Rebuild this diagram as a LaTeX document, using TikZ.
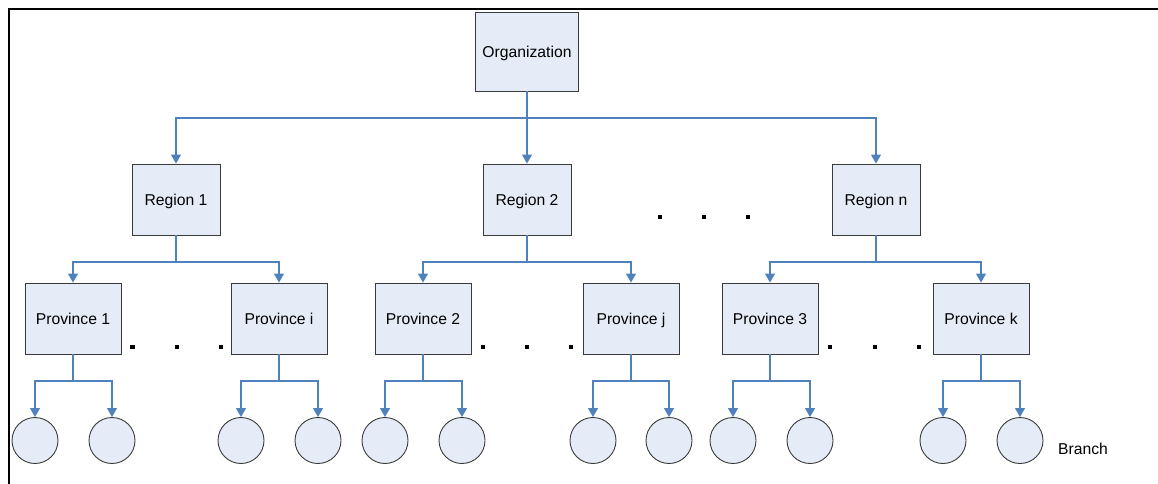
\documentclass[tikz,border=0pt]{standalone}
\usepackage{fontspec}
\setmainfont{Liberation Sans}
\usetikzlibrary{arrows.meta}
\definecolor{boxfill}{HTML}{E6ECF7}
\definecolor{boxline}{HTML}{3A3A3A}
\definecolor{linkblue}{HTML}{4F81BD}

\begin{document}
\begin{tikzpicture}[x=1pt,y=-1pt,
  unitbox/.style={draw=boxline, fill=boxfill, line width=0.9pt,
    font=\fontsize{15.7}{18}\selectfont, inner sep=0pt,
    text height=11.3pt, text depth=0pt},
  orgbox/.style={unitbox, minimum width=103pt, minimum height=79pt},
  regbox/.style={unitbox, minimum width=88pt, minimum height=71pt},
  provbox/.style={unitbox, minimum width=96pt, minimum height=71pt},
  branch/.style={circle, draw=boxline, fill=boxfill, line width=0.9pt,
    minimum size=46pt, inner sep=0pt},
  conn/.style={draw=linkblue, line width=1.1pt,
    -{Triangle[width=10pt,length=9pt]}},
  gapdot/.style={fill=black, minimum size=4.5pt, inner sep=0pt},
  lbl/.style={font=\fontsize{15.7}{18}\selectfont, inner sep=0pt}
]
\useasboundingbox (0,0) rectangle (1158,484);

% frame (top and left edges)
\draw[line width=2pt] (9.3,484) -- (9.3,9.3) -- (1158,9.3);

% top level
\node[orgbox] (org) at (527,51.5) {Organization};

% regions
\node[regbox] (r1) at (176,199.5) {Region 1};
\node[regbox] (r2) at (527,199.5) {Region 2};
\node[regbox] (rn) at (876,199.5) {Region n};

% provinces
\node[provbox] (p1) at (73,318.5) {Province 1};
\node[provbox] (pi) at (279,318.5) {Province i};
\node[provbox] (p2) at (423,318.5) {Province 2};
\node[provbox] (pj) at (631,318.5) {Province j};
\node[provbox] (p3) at (770,318.5) {Province 3};
\node[provbox] (pk) at (981,318.5) {Province k};

% branches
\node[branch] (b1a) at (35,440.5) {};
\node[branch] (b1b) at (112,440.5) {};
\node[branch] (bia) at (241,440.5) {};
\node[branch] (bib) at (318,440.5) {};
\node[branch] (b2a) at (385,440.5) {};
\node[branch] (b2b) at (462,440.5) {};
\node[branch] (bja) at (593,440.5) {};
\node[branch] (bjb) at (669,440.5) {};
\node[branch] (b3a) at (733,440.5) {};
\node[branch] (b3b) at (810,440.5) {};
\node[branch] (bka) at (943,440.5) {};
\node[branch] (bkb) at (1020,440.5) {};

\node[lbl, anchor=west] (blabel) at (1058,449) {Branch};

% ellipsis dots
\node[gapdot] (d0a) at (660,217) {};
\node[gapdot] (d0b) at (704,217) {};
\node[gapdot] (d0c) at (748,217) {};
\node[gapdot] (d1a) at (132.5,347) {};
\node[gapdot] (d1b) at (177,347) {};
\node[gapdot] (d1c) at (221,347) {};
\node[gapdot] (d2a) at (483,347) {};
\node[gapdot] (d2b) at (527,347) {};
\node[gapdot] (d2c) at (571,347) {};
\node[gapdot] (d3a) at (830,347) {};
\node[gapdot] (d3b) at (875,347) {};
\node[gapdot] (d3c) at (919,347) {};

% bus coordinates
\coordinate (orgbus) at (527,118);
\coordinate (r1bus) at (176,262);
\coordinate (r2bus) at (527,262);
\coordinate (rnbus) at (876,262);
\coordinate (p1bus) at (73,381);
\coordinate (pibus) at (279,381);
\coordinate (p2bus) at (423,381);
\coordinate (pjbus) at (631,381);
\coordinate (p3bus) at (770,381);
\coordinate (pkbus) at (981,381);

% organization -> regions
\draw[conn] (org.south) -- (orgbus) -| (r1.north);
\draw[conn] (org.south) -- (r2.north);
\draw[conn] (org.south) -- (orgbus) -| (rn.north);

% regions -> provinces
\draw[conn] (r1.south) -- (r1bus) -| (p1.north);
\draw[conn] (r1.south) -- (r1bus) -| (pi.north);
\draw[conn] (r2.south) -- (r2bus) -| (p2.north);
\draw[conn] (r2.south) -- (r2bus) -| (pj.north);
\draw[conn] (rn.south) -- (rnbus) -| (p3.north);
\draw[conn] (rn.south) -- (rnbus) -| (pk.north);

% provinces -> branches
\draw[conn] (p1.south) -- (p1bus) -| (b1a.north);
\draw[conn] (p1.south) -- (p1bus) -| (b1b.north);
\draw[conn] (pi.south) -- (pibus) -| (bia.north);
\draw[conn] (pi.south) -- (pibus) -| (bib.north);
\draw[conn] (p2.south) -- (p2bus) -| (b2a.north);
\draw[conn] (p2.south) -- (p2bus) -| (b2b.north);
\draw[conn] (pj.south) -- (pjbus) -| (bja.north);
\draw[conn] (pj.south) -- (pjbus) -| (bjb.north);
\draw[conn] (p3.south) -- (p3bus) -| (b3a.north);
\draw[conn] (p3.south) -- (p3bus) -| (b3b.north);
\draw[conn] (pk.south) -- (pkbus) -| (bka.north);
\draw[conn] (pk.south) -- (pkbus) -| (bkb.north);
\end{tikzpicture}
\end{document}
